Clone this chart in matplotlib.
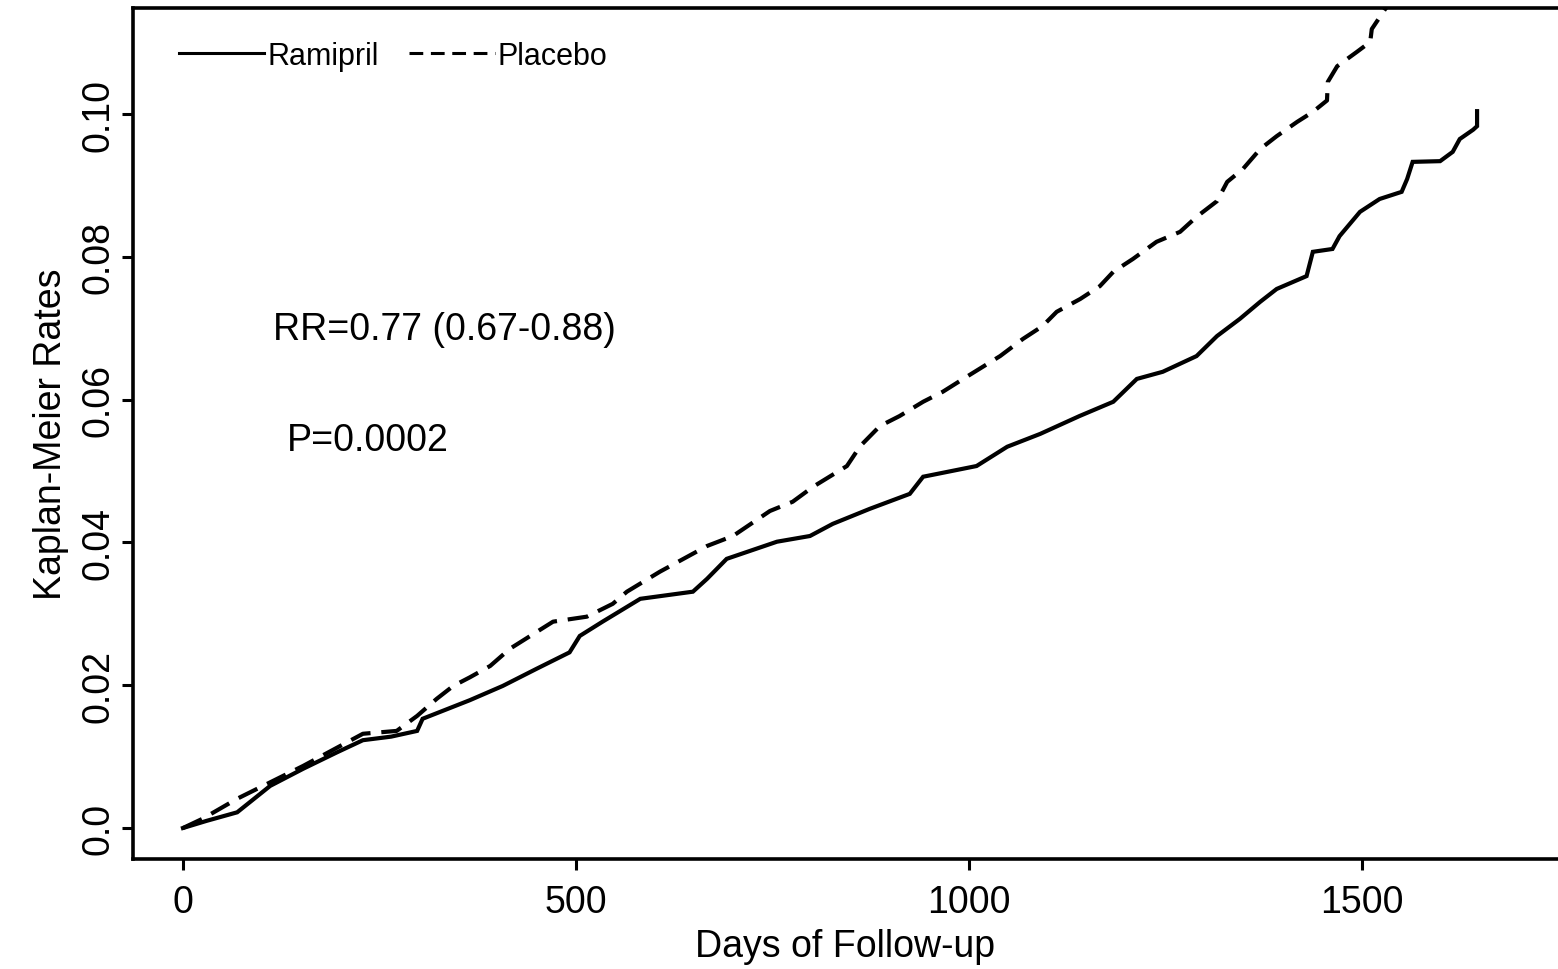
import matplotlib
matplotlib.use("Agg")
import matplotlib.pyplot as plt
from matplotlib.lines import Line2D

plt.rcParams['font.family'] = ['Liberation Sans', 'DejaVu Sans']

# Ramipril (solid)
ramipril_days = [0, 30, 69, 111, 153, 196, 229, 265, 298, 305, 365, 407, 450, 492, 505,
                 534, 582, 649, 667, 692, 756, 798, 827, 874, 925, 942, 1010, 1049, 1091,
                 1141, 1184, 1214, 1247, 1290, 1316, 1345, 1371, 1392, 1430, 1438, 1463,
                 1472, 1498, 1523, 1551, 1558, 1565, 1600, 1616, 1625, 1642, 1647, 1647]
ramipril_rate = [0.0, 0.0010, 0.0022, 0.0059, 0.0083, 0.0106, 0.0123, 0.0128, 0.0136, 0.0153,
                 0.0179, 0.0199, 0.0223, 0.0246, 0.0269, 0.0289, 0.0321, 0.0331, 0.0349,
                 0.0377, 0.0401, 0.0409, 0.0426, 0.0447, 0.0468, 0.0492, 0.0507, 0.0534,
                 0.0552, 0.0577, 0.0597, 0.0629, 0.0639, 0.0661, 0.0689, 0.0713, 0.0737,
                 0.0755, 0.0773, 0.0807, 0.0811, 0.0829, 0.0863, 0.0881, 0.0891, 0.0909,
                 0.0933, 0.0934, 0.0947, 0.0965, 0.0978, 0.0983, 0.1004]

# Placebo (dashed)
placebo_days = [0, 25, 69, 111, 153, 229, 272, 298, 323, 344, 365, 391, 416, 442, 471, 514,
                547, 565, 607, 667, 700, 747, 776, 802, 845, 862, 887, 912, 942, 967, 993,
                1040, 1069, 1094, 1112, 1142, 1167, 1184, 1209, 1239, 1269, 1290, 1316,
                1329, 1349, 1371, 1392, 1418, 1438, 1456, 1457, 1469, 1494, 1511, 1513,
                1530, 1540]
placebo_rate = [0.0, 0.0013, 0.0041, 0.0064, 0.0087, 0.0132, 0.0136, 0.0157, 0.0181, 0.0199,
                0.0211, 0.0227, 0.0251, 0.0269, 0.0289, 0.0296, 0.0314, 0.0331, 0.0359,
                0.0395, 0.0409, 0.0444, 0.0457, 0.0478, 0.0507, 0.0535, 0.0563, 0.0577,
                0.0597, 0.0611, 0.0629, 0.0661, 0.0685, 0.0703, 0.0723, 0.0741, 0.0759,
                0.0779, 0.0797, 0.0821, 0.0835, 0.0856, 0.0878, 0.0905, 0.0923, 0.0951,
                0.0969, 0.0989, 0.1003, 0.1019, 0.1045, 0.1067, 0.1087, 0.1101, 0.1119,
                0.1147, 0.1160]

x_ticks = [0, 500, 1000, 1500]
y_ticks = [0.0, 0.02, 0.04, 0.06, 0.08, 0.10]
y_ticklabels = ["0.0", "0.02", "0.04", "0.06", "0.08", "0.10"]

fig = plt.figure(figsize=(15.58, 9.70), dpi=100)
ax = fig.add_axes([133 / 1558, 110 / 970, 1 - 133 / 1558, 851 / 970])

lw = 3.0
ax.plot(ramipril_days, ramipril_rate, color='black', lw=lw, solid_joinstyle='miter')
ax.plot(placebo_days, placebo_rate, color='black', lw=lw, dashes=(5, 2.6))

ax.set_xlim(-63.6, 1750)
ax.set_ylim(-0.00434, 0.11485)

ax.set_xticks(x_ticks)
ax.set_xticklabels([str(t) for t in x_ticks])
ax.set_yticks(y_ticks)
ax.set_yticklabels(y_ticklabels, rotation=90, va='center')

ax.tick_params(axis='both', direction='out', width=2.2, length=8, labelsize=27,
               colors='black')
ax.tick_params(axis='x', pad=10)
ax.tick_params(axis='y', pad=4)

for s in ['left', 'bottom', 'top']:
    ax.spines[s].set_linewidth(2.6)
ax.spines['right'].set_visible(False)

ax.set_xlabel("Days of Follow-up", fontsize=27, labelpad=6)
ax.set_ylabel("Kaplan-Meier Rates", fontsize=27, labelpad=8)

ax.text(115, 0.0699, "RR=0.77 (0.67-0.88)", fontsize=27, va='center', ha='left')
ax.text(132, 0.0543, "P=0.0002", fontsize=27, va='center', ha='left')

handles = [Line2D([], [], color='black', lw=2.2),
           Line2D([], [], color='black', lw=2.2, dashes=(4.5, 2.5))]
ax.legend(handles, ["Ramipril", "Placebo"], loc='upper left', ncol=2,
          bbox_to_anchor=(0.032, 0.961), frameon=False, fontsize=22,
          handlelength=2.8, handletextpad=0.1, columnspacing=1.0, borderpad=0,
          borderaxespad=0)

fig.savefig("out.png", dpi=100)
